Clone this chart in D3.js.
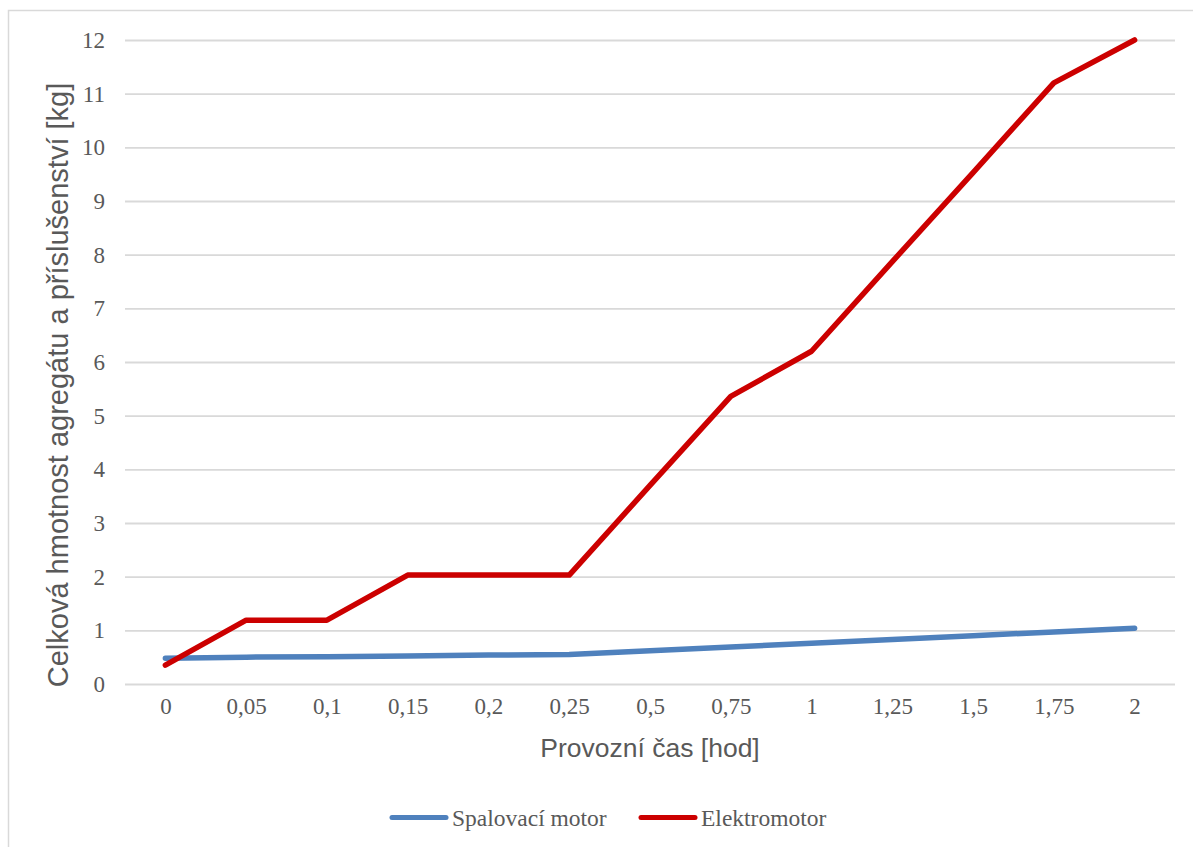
<!DOCTYPE html>
<html>
<head>
<meta charset="utf-8">
<script src="https://cdn.jsdelivr.net/npm/d3@7"></script>
<style>
  html, body { margin: 0; padding: 0; background: #fff; }
  svg { display: block; }
</style>
</head>
<body>
<script>
// Operating time categories (hours) and total mass of unit + accessories (kg)
const categories = ["0", "0,05", "0,1", "0,15", "0,2", "0,25", "0,5", "0,75", "1", "1,25", "1,5", "1,75", "2"];
const spalovaciMotor = [0.48, 0.50, 0.51, 0.52, 0.54, 0.55, 0.62, 0.69, 0.76, 0.83, 0.90, 0.97, 1.04];
const elektromotor   = [0.35, 1.19, 1.19, 2.03, 2.03, 2.03, 3.70, 5.36, 6.20, 7.87, 9.53, 11.20, 12.0];
const yTicks = [0, 1, 2, 3, 4, 5, 6, 7, 8, 9, 10, 11, 12];

const seriesList = [
  { name: "Spalovací motor", values: spalovaciMotor, color: "#4f81bd" },
  { name: "Elektromotor", values: elektromotor, color: "#cc0000" }
];

const W = 1193, H = 847;
const plot = { left: 125, right: 1175, top: 40, bottom: 684 };
const textColor = "#595959";
const serif = "'Liberation Serif', 'Times New Roman', serif";
const sans = "'Liberation Sans', Arial, sans-serif";

const svg = d3.select("body").append("svg").attr("width", W).attr("height", H);

// Chart frame
svg.append("rect")
  .attr("x", 8.5).attr("y", 10.5)
  .attr("width", W + 10).attr("height", H + 10)
  .attr("fill", "#fff").attr("stroke", "#d9d9d9").attr("stroke-width", 1.5);

const x = d3.scalePoint().domain(categories).range([plot.left, plot.right]).padding(0.5);
const y = d3.scaleLinear().domain([0, 12]).range([plot.bottom, plot.top]);

// Horizontal gridlines + y tick labels
const yAxis = d3.axisLeft(y).tickValues(yTicks).tickSize(-(plot.right - plot.left)).tickPadding(20)
  .tickFormat(d => String(d));
const gy = svg.append("g").attr("transform", `translate(${plot.left},0)`).call(yAxis);
gy.select(".domain").remove();
gy.selectAll(".tick line").attr("stroke", "#d9d9d9").attr("stroke-width", 1.8);
gy.selectAll(".tick text")
  .attr("fill", textColor).style("font-family", serif).style("font-size", "23px");

// x tick labels
const xAxis = d3.axisBottom(x).tickSize(0).tickPadding(14);
const gx = svg.append("g").attr("transform", `translate(0,${plot.bottom})`).call(xAxis);
gx.select(".domain").remove();
gx.selectAll(".tick text")
  .attr("fill", textColor).style("font-family", serif).style("font-size", "23px");

// Series lines
const line = d3.line().x((d, i) => x(categories[i])).y(d => y(d));
svg.append("g").selectAll("path").data(seriesList).join("path")
  .attr("d", s => line(s.values))
  .attr("fill", "none")
  .attr("stroke", s => s.color)
  .attr("stroke-width", 5.5)
  .attr("stroke-linejoin", "round")
  .attr("stroke-linecap", "round");

// Axis titles
svg.append("text")
  .attr("x", (plot.left + plot.right) / 2).attr("y", 757)
  .attr("text-anchor", "middle")
  .attr("fill", textColor).style("font-family", sans).style("font-size", "26.5px")
  .text("Provozní čas [hod]");

svg.append("text")
  .attr("transform", "translate(68,385) rotate(-90)")
  .attr("text-anchor", "middle")
  .attr("fill", textColor).style("font-family", sans).style("font-size", "29px")
  .text("Celková hmotnost agregátu a příslušenství [kg]");

// Legend
const legendItems = [
  { s: seriesList[0], x0: 392 },
  { s: seriesList[1], x0: 641 }
];
const lg = svg.append("g");
legendItems.forEach(item => {
  lg.append("line")
    .attr("x1", item.x0).attr("x2", item.x0 + 54)
    .attr("y1", 817.5).attr("y2", 817.5)
    .attr("stroke", item.s.color).attr("stroke-width", 5).attr("stroke-linecap", "round");
  lg.append("text")
    .attr("x", item.x0 + 60).attr("y", 826)
    .attr("fill", textColor).style("font-family", serif).style("font-size", "23.5px")
    .text(item.s.name);
});
</script>
</body>
</html>
